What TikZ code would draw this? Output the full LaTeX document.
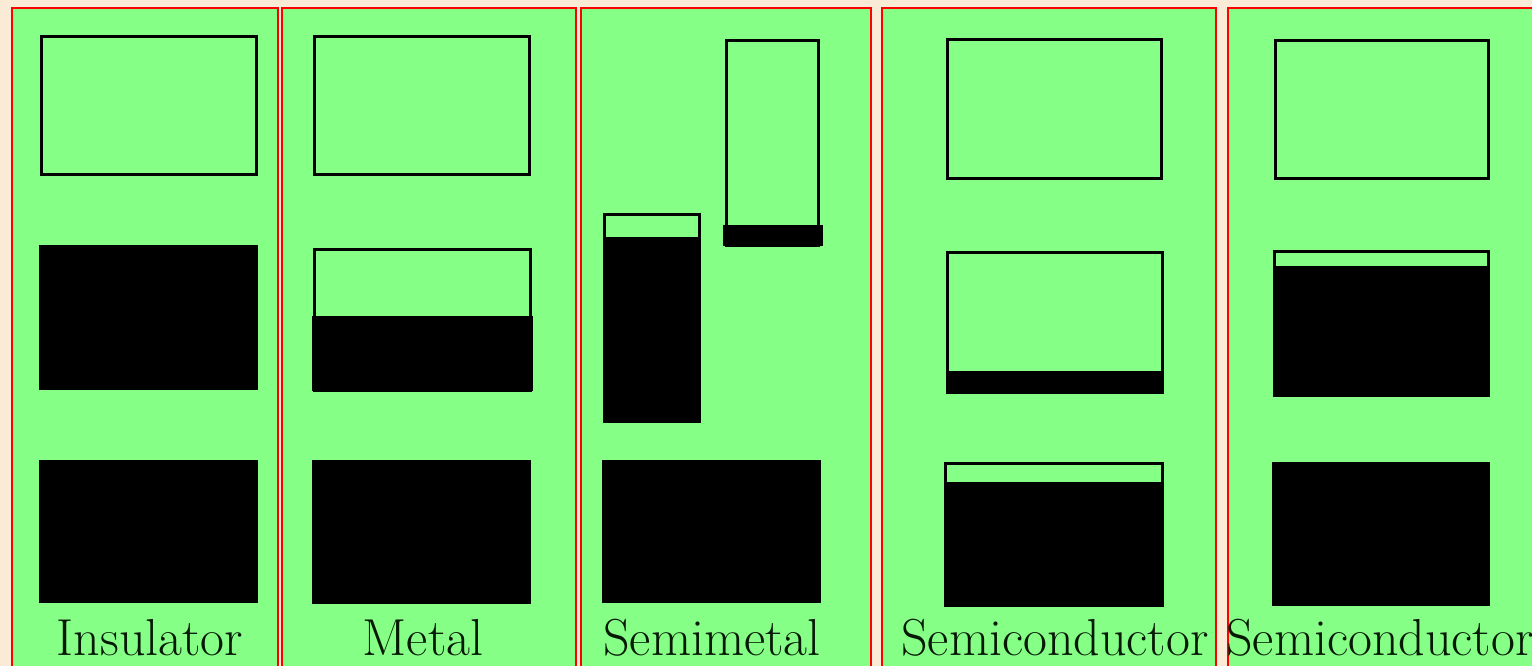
\documentclass[tikz,border=0pt]{standalone}
\usepackage{fontspec}
\definecolor{bg}{RGB}{250,235,215}
\definecolor{pgreen}{RGB}{134,255,134}
\definecolor{pred}{RGB}{255,0,0}
\definecolor{ink}{RGB}{5,25,5}
\begin{document}
\begin{tikzpicture}[x=1pt,y=-1pt,
  panel/.style={draw=pred,line width=2.7pt,fill=pgreen},
  bandline/.style={draw=black,line width=3.0pt},
  bandfill/.style={fill=black},
  lbl/.style={text=ink,font=\fontsize{52}{60}\selectfont,anchor=base,inner sep=0pt}]
\useasboundingbox (0,0) rectangle (1532,666);
\clip (0,0) rectangle (1532,666);
\fill[bg] (0,0) rectangle (1532,666);
% panels
\draw[panel] (12,8) rectangle (278,700);
\draw[panel] (282,8) rectangle (576,700);
\draw[panel] (581,8) rectangle (871,700);
\draw[panel] (882,8) rectangle (1216,700);
\draw[panel] (1228,8) rectangle (1545,700);
% Insulator
\draw[bandline] (41,37) rectangle (256,175);
\fill[bandfill] (39,245) rectangle (258,390);
\fill[bandfill] (39,460) rectangle (258,603);
% Metal
\draw[bandline] (314,37) rectangle (529,175);
\draw[bandline] (314,249) rectangle (530,390);
\fill[bandfill] (312,316) rectangle (533,391);
\fill[bandfill] (312,460) rectangle (531,604);
% Semimetal
\draw[bandline] (604.5,214.5) rectangle (699,421);
\fill[bandfill] (603,237) rectangle (700.5,422);
\draw[bandline] (726,40.5) rectangle (818.5,245);
\fill[bandfill] (723,225) rectangle (823,246);
\fill[bandfill] (602,460) rectangle (821,603);
% Semiconductor 1
\draw[bandline] (947,40) rectangle (1161.5,178.5);
\draw[bandline] (947.5,252) rectangle (1162,392);
\fill[bandfill] (946,371) rectangle (1163,393.5);
\draw[bandline] (945.5,463.5) rectangle (1162,605);
\fill[bandfill] (944,482) rectangle (1163.5,606.5);
% Semiconductor 2
\draw[bandline] (1275,40.5) rectangle (1488,179);
\draw[bandline] (1274.5,251.5) rectangle (1488,395);
\fill[bandfill] (1273,266) rectangle (1489.5,396.5);
\fill[bandfill] (1272,462) rectangle (1490,606);
% labels
\node[lbl] (l1) at (150,655) {Insulator};
\node[lbl] (l2) at (423,655) {Metal};
\node[lbl] (l3) at (712,655) {Semimetal};
\node[lbl] (l4) at (1055,655) {Semiconductor};
\node[lbl] (l5) at (1380,655) {Semiconductor};
\end{tikzpicture}
\end{document}
